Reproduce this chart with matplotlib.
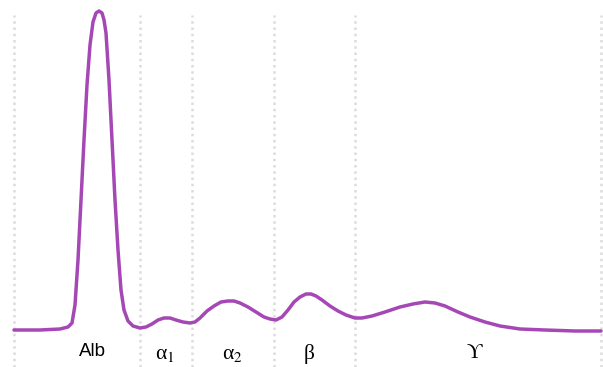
import numpy as np
import matplotlib.pyplot as plt

# densitometry trace (x position, height in px above bottom)
pos = [14, 40, 60, 68, 72, 75, 78, 81, 84, 87, 90, 93, 96, 99, 102, 104, 106,
       109, 112, 115, 118, 121, 124, 128, 133, 140, 146, 152, 158, 164, 170,
       176, 183, 190, 195, 200, 207, 214, 221, 228, 234, 240, 248, 256, 264,
       270, 276, 282, 288, 294, 300, 306, 311, 316, 322, 330, 338, 346, 355,
       362, 372, 385, 400, 413, 425, 435, 445, 458, 470, 485, 500, 520, 545,
       575, 601]
ypix = [330, 330, 329, 327, 323, 305, 260, 200, 140, 85, 45, 22, 13, 11, 13,
        20, 33, 80, 140, 200, 250, 290, 310, 321, 326, 328, 327, 324, 320, 318,
        318, 320, 322, 323, 322, 318, 311, 306, 302, 301, 301, 303, 307, 312,
        317, 319, 320, 317, 310, 302, 297, 294, 294, 296, 300, 306, 311, 315,
        318, 318, 316, 312, 307, 304, 302, 303, 306, 312, 317, 322, 326, 329,
        330, 331, 331]
height = [367 - v for v in ypix]

bounds = [14, 140, 192, 274, 355, 601]
fractions = ["Alb", "α$_1$", "α$_2$", "β", "ϒ"]
label_x = [92, 165, 232, 309, 474]
label_y = [16, 12, 12, 13, 14]

plt.rcParams['mathtext.fontset'] = 'stix'

fig = plt.figure(figsize=(6.03, 3.67), dpi=100)
ax = fig.add_axes([0, 0, 1, 1])
ax.set_xlim(0, 603)
ax.set_ylim(0, 367)
ax.axis('off')

for b in bounds:
    ax.plot([b, b], [0, 352], color='#dcdcdc', linestyle=(0, (1, 1.5)),
            linewidth=1.8, zorder=1)

ax.plot(pos, height, color='#a647b6', linewidth=2.5, solid_capstyle='round',
        solid_joinstyle='round', zorder=3)

for lx, ly, lab in zip(label_x, label_y, fractions):
    if lab == "Alb":
        ax.text(lx, ly, lab, ha='center', va='center', fontsize=13.5,
                family=['Liberation Sans', 'DejaVu Sans'])
    else:
        ax.text(lx, ly, lab, ha='center', va='center', fontsize=15.5,
                family=['Liberation Serif', 'DejaVu Serif'])

fig.savefig("out.png", dpi=100)
